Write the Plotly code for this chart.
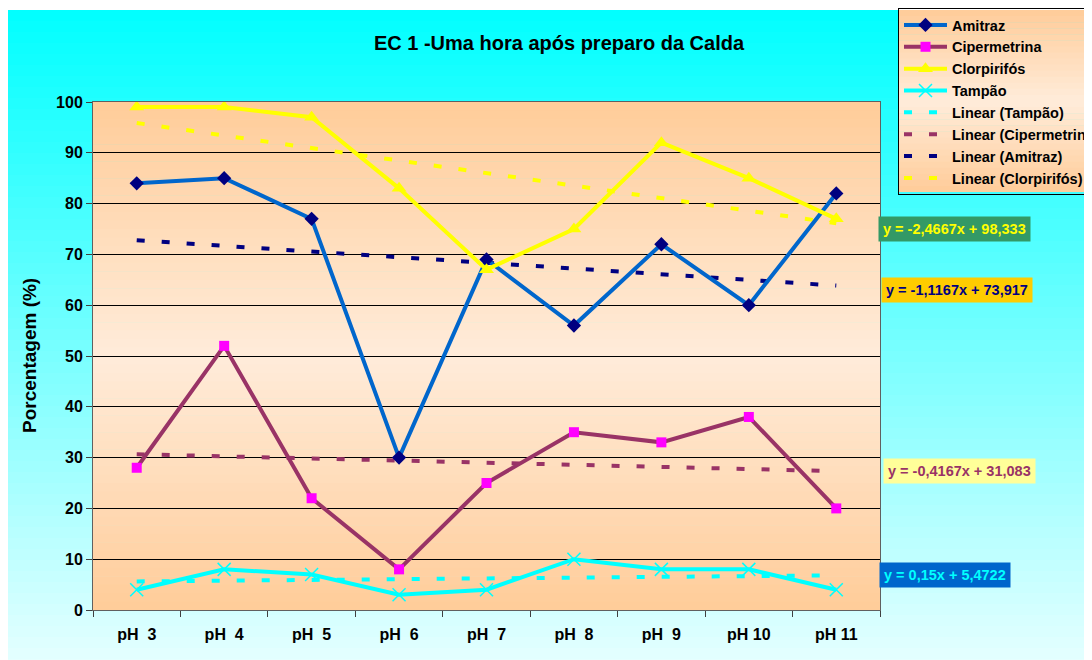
import numpy as np
import plotly.graph_objects as go

categories = ["pH\u00a0\u00a03", "pH\u00a0\u00a04", "pH\u00a0\u00a05", "pH\u00a0\u00a06", "pH\u00a0\u00a07",
              "pH\u00a0\u00a08", "pH\u00a0\u00a09", "pH\u00a010", "pH\u00a011"]
amitraz = [84, 85, 77, 30, 69, 56, 72, 60, 82]
cipermetrina = [28, 52, 22, 8, 25, 35, 33, 38, 20]
clorpirifos = [99, 99, 97, 83, 67, 75, 92, 85, 77]
tampao = [4, 8, 7, 3, 4, 10, 8, 8, 4]

title_text = "EC 1 -Uma hora após preparo da Calda"
y_title = "Porcentagem (%)"
eq_labels = {
    "Clorpirifós": "y = -2,4667x + 98,333",
    "Amitraz": "y = -1,1167x + 73,917",
    "Cipermetrina": "y = -0,4167x + 31,083",
    "Tampão": "y = 0,15x + 5,4722",
}

FONT = "Liberation Sans, Arial, sans-serif"
W, H = 1092, 660
OFF = 8  # page body margin
# plot area in screen pixels
SL, SR, ST, SB = 93, 880, 102, 610
L, R, T, B = SL - OFF, SR - OFF, ST - OFF, SB - OFF


def px_x(p):
    return (p - SL) / (SR - SL)


def px_y(p):
    return (SB - p) / (SB - ST)


def trend(vals):
    x = np.arange(1, len(vals) + 1)
    m, b = np.polyfit(x, vals, 1)
    return list(m * x + b)


fig = go.Figure()

dash = "8px,17px"
trend_specs = [
    ("Linear (Tampão)", tampao, "#00FFFF", 5),
    ("Linear (Cipermetrina)", cipermetrina, "#993366", 6),
    ("Linear (Amitraz)", amitraz, "#000080", 7),
    ("Linear (Clorpirifós)", clorpirifos, "#FFFF00", 8),
]
for name, vals, col, rank in trend_specs:
    fig.add_trace(go.Scatter(
        x=categories, y=trend(vals), mode="lines", name=name,
        line=dict(color=col, width=4, dash=dash),
        legendrank=rank, legendgroup=name, hoverinfo="skip"))

series_specs = [
    ("Amitraz", amitraz, "#0066CC", dict(symbol="diamond", size=11, color="#000080"), 1),
    ("Cipermetrina", cipermetrina, "#993366", dict(symbol="square", size=10, color="#FF00FF"), 2),
    ("Clorpirifós", clorpirifos, "#FFFF00", dict(symbol="triangle-up", size=13, color="#FFFF00"), 3),
    ("Tampão", tampao, "#00FFFF", dict(symbol="x-thin", size=13, color="#00FFFF",
                                        line=dict(color="#00FFFF", width=1.5)), 4),
]
for name, vals, col, mk, rank in series_specs:
    fig.add_trace(go.Scatter(
        x=categories, y=vals, mode="lines+markers", name=name,
        line=dict(color=col, width=4), marker=mk,
        legendrank=rank, legendgroup=name))

shapes = []


def lerp(c1, c2, t):
    return tuple(int(round(a + (b - a) * t)) for a, b in zip(c1, c2))


# paper gradient (cyan)
n = 60
top, bot = 10, 670
for i in range(n):
    y0 = top + (bot - top) * i / n
    y1 = top + (bot - top) * (i + 1) / n + 0.5
    c = lerp((0, 255, 255), (232, 255, 255), (i + 0.5) / n)
    shapes.append(dict(type="rect", xref="paper", yref="paper", layer="below",
                       x0=px_x(7), x1=px_x(W + 20), y0=px_y(y1), y1=px_y(y0),
                       fillcolor="rgb(%d,%d,%d)" % c, line=dict(width=0)))


def peach(t):
    dark = (255, 204, 153)
    light = (255, 236, 218)
    mid = 0.5
    if t < mid:
        return lerp(dark, light, t / mid)
    return lerp(light, dark, (t - mid) / (1 - mid))


def peach_bands(x0p, x1p, y0p, y1p, nb):
    for i in range(nb):
        a = y0p + (y1p - y0p) * i / nb
        b = y0p + (y1p - y0p) * (i + 1) / nb + 0.5
        c = peach((i + 0.5) / nb)
        shapes.append(dict(type="rect", xref="paper", yref="paper", layer="below",
                           x0=px_x(x0p), x1=px_x(x1p), y0=px_y(min(b, y1p)), y1=px_y(a),
                           fillcolor="rgb(%d,%d,%d)" % c, line=dict(width=0)))


peach_bands(SL, SR, ST, SB, 60)
peach_bands(898, W + 20, 10, 192, 30)

annotations = []
eq_specs = [
    ("Clorpirifós", 878, 229, "#339966", "#FFFF00"),
    ("Amitraz", 881, 290, "#FFCC00", "#000080"),
    ("Cipermetrina", 883, 471, "#FFFF99", "#993366"),
    ("Tampão", 879, 575, "#0066CC", "#00FFFF"),
]
for key, xp, yp, bg, fc in eq_specs:
    annotations.append(dict(
        text=eq_labels[key], xref="paper", yref="paper", x=px_x(xp), y=px_y(yp),
        xanchor="left", yanchor="middle", showarrow=False, bgcolor=bg, borderpad=4,
        font=dict(family=FONT, size=14.5, color=fc, weight=700)))

annotations.append(dict(
    text=y_title, xref="paper", yref="paper", x=px_x(29), y=px_y(356),
    xanchor="center", yanchor="middle", showarrow=False, textangle=-90,
    font=dict(family=FONT, size=19, color="black", weight=700)))

fig.update_layout(
    width=W, height=H,
    margin=dict(l=L, r=W - R, t=T, b=H - B, autoexpand=False),
    paper_bgcolor="white", plot_bgcolor="rgba(0,0,0,0)",
    title=dict(text=title_text, x=(559 - OFF) / W, y=1 - (43 - OFF) / H,
               xanchor="center", yanchor="middle",
               font=dict(family=FONT, size=20, color="black", weight=700)),
    showlegend=True,
    legend=dict(x=px_x(898), y=px_y(8), xanchor="left", yanchor="top",
                bgcolor="rgba(0,0,0,0)", bordercolor="black", borderwidth=1,
                font=dict(family=FONT, size=14.5, color="black", weight=700),
                tracegroupgap=3, itemwidth=43, traceorder="normal"),
    shapes=shapes, annotations=annotations,
    xaxis=dict(type="category", range=[-0.5, 8.5], showgrid=False, tickson="boundaries",
               ticks="outside", ticklen=6, tickcolor="#404040", showline=True,
               linecolor="#606060", linewidth=1, mirror=True, ticklabelstandoff=10,
               tickfont=dict(family=FONT, size=16, color="black", weight=700)),
    yaxis=dict(range=[0, 100], dtick=10, showgrid=True, gridcolor="black", gridwidth=1,
               ticks="outside", ticklen=6, tickcolor="#404040", showline=True,
               linecolor="#606060", linewidth=1, mirror=True, zeroline=False,
               tickfont=dict(family=FONT, size=16, color="black", weight=700)),
    hovermode=False,
)

fig.write_html("out.html")
